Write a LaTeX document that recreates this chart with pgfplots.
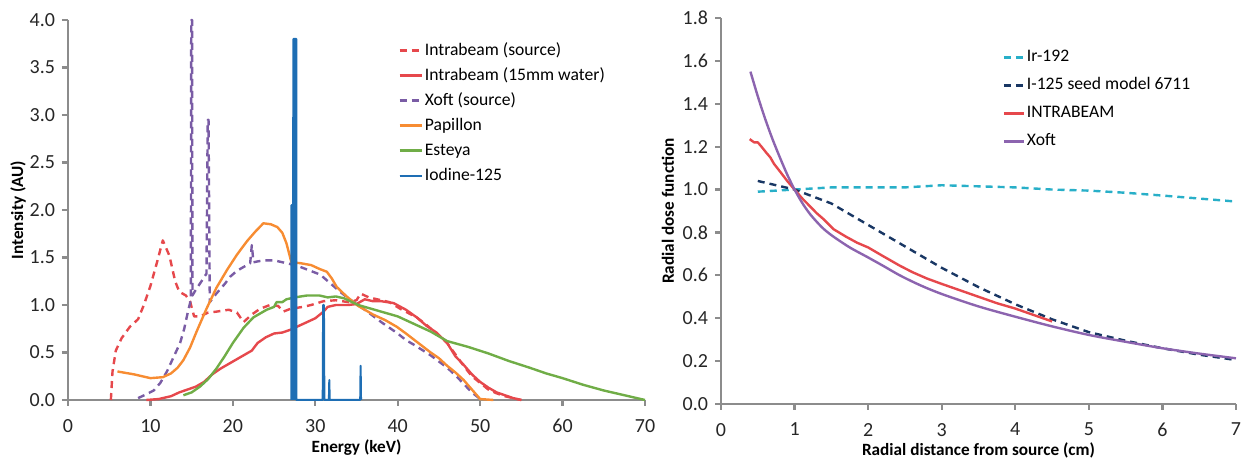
\documentclass[border=0pt]{standalone}
\usepackage{fontspec}
\setmainfont{Carlito}
\usepackage{pgfplots}
\pgfplotsset{compat=1.18}
\definecolor{axgray}{RGB}{140,140,140}
\definecolor{ibred}{RGB}{230,72,76}
\definecolor{xpurple}{RGB}{122,92,165}
\definecolor{xpurple2}{RGB}{140,100,175}
\definecolor{porange}{RGB}{247,140,50}
\definecolor{egreen}{RGB}{112,173,71}
\definecolor{iblue}{RGB}{30,110,180}
\definecolor{ircyan}{RGB}{40,175,200}
\definecolor{inavy}{RGB}{25,55,100}
\pgfplotsset{
  excel/.style={
    scale only axis,
    axis lines=left,
    axis line style={-, draw=axgray, line width=1.1pt},
    tick style={draw=axgray, line width=1.1pt},
    major tick length=3pt,
    tick align=outside,
    clip=false,
    /pgf/number format/assume math mode=true,
    ticklabel style={font=\fontsize{10}{11}\selectfont, text=black!85},
    xticklabel style={yshift=-3pt},
    every axis x label/.style={font=\bfseries\fontsize{8.6}{10}\selectfont, anchor=center},
    every axis y label/.style={font=\bfseries\fontsize{8.6}{10}\selectfont, rotate=90, anchor=center},
    legend cell align=left,
    legend style={draw=none, fill=none, inner sep=0pt, anchor=north west,
      font=\fontsize{8.8}{10}\selectfont,
      nodes={inner sep=1pt, text height=6.5pt, text depth=2pt}},
    legend image code/.code={\draw[#1] (0pt,0pt) -- (11pt,0pt);},
    every axis plot/.append style={line width=1.2pt, line join=round},
  },
  dsh/.style={dash pattern=on 3.5pt off 2.5pt},
}
\begin{document}
\begin{tikzpicture}
\useasboundingbox (0,0) rectangle (621pt,229pt);
\begin{axis}[excel,
  at={(34pt,29pt)}, anchor=south west, width=288.5pt, height=190pt,
  xmin=0, xmax=70, ymin=0, ymax=4,
  xtick={0,10,20,30,40,50,60,70},
  ytick={0,0.5,1,1.5,2,2.5,3,3.5,4},
  yticklabel style={/pgf/number format/fixed, /pgf/number format/precision=1, /pgf/number format/fixed zerofill},
  xlabel={Energy (keV)}, ylabel={Intensity (AU)},
  xlabel style={at={(axis description cs:0.5,-0.126)}},
  ylabel style={at={(axis description cs:-0.0867,0.5)}},
  legend style={at={(axis description cs:0.572,0.948)}, row sep=2pt},
]
\addplot[ibred, dsh] coordinates {(5.2,0)(5.4,0.3)(5.8,0.52)(6.5,0.65)(7.5,0.77)(8.5,0.85)(9.2,1.0)(10,1.2)(10.8,1.45)(11.5,1.68)(12.3,1.52)(13,1.25)(13.5,1.14)(14.3,1.1)(14.8,1.04)(15.3,0.88)(16,0.88)(17,0.92)(18,0.93)(19.5,0.95)(20.5,0.92)(21.3,0.82)(22.3,0.9)(23.3,0.96)(24.5,1.0)(25.5,0.99)(26.1,0.93)(27,0.96)(28.5,0.98)(29.5,1.0)(31,1.04)(32.5,1.05)(34,1.03)(35,1.05)(35.5,1.12)(36.5,1.08)(37.5,1.06)(39,1.03)(40.5,0.95)(42.3,0.87)(43.5,0.79)(44.7,0.7)(46,0.6)(47,0.48)(48,0.36)(49,0.25)(50,0.18)(51,0.11)(52,0.07)(53,0.04)(54,0.02)(55,0)};
\addlegendentry{Intrabeam (source)}
\addplot[ibred] coordinates {(9.5,0)(11,0.01)(12.5,0.04)(13.5,0.08)(14.5,0.11)(15.5,0.14)(16.5,0.19)(17.5,0.27)(18.5,0.33)(19.5,0.38)(20.3,0.42)(21.3,0.47)(22.3,0.52)(23,0.6)(24,0.66)(25,0.7)(26,0.71)(27,0.74)(28,0.78)(29,0.82)(30,0.86)(31,0.93)(31.5,0.98)(32.5,1.0)(34,1.0)(35,1.01)(36,1.06)(37,1.04)(38,1.04)(39.5,1.02)(41,0.95)(42.3,0.87)(43.5,0.78)(44.7,0.71)(46,0.6)(47,0.46)(48,0.37)(49,0.27)(50,0.19)(51,0.13)(52,0.08)(53,0.05)(54,0.02)(55,0)};
\addlegendentry{Intrabeam (15mm water)}
\addplot[xpurple, dsh] coordinates {(8.5,0.02)(9.5,0.06)(10.4,0.1)(11.2,0.18)(12,0.3)(12.8,0.45)(13.6,0.6)(14.1,0.75)(14.6,0.95)(14.9,1.05)(14.95,4.0)(15.05,4.0)(15.1,1.1)(15.5,1.16)(16.2,1.25)(16.8,1.33)(16.95,2.95)(17.05,2.95)(17.2,1.03)(18,1.12)(19,1.22)(19.7,1.3)(20.5,1.36)(21.3,1.4)(22.1,1.44)(22.3,1.63)(22.5,1.45)(23.7,1.47)(25,1.47)(26,1.45)(27,1.43)(28.2,1.4)(30.6,1.32)(33,1.14)(34,1.07)(35.2,1.0)(36,0.95)(38,0.82)(40,0.7)(41,0.63)(42,0.58)(44,0.47)(46,0.34)(47,0.26)(48,0.17)(49,0.08)(50,0.01)};
\addlegendentry{Xoft (source)}
\addplot[porange] coordinates {(6,0.3)(8,0.27)(10,0.23)(11.5,0.24)(12.5,0.28)(13.3,0.34)(14,0.42)(14.8,0.55)(15.6,0.72)(16.8,0.96)(18,1.18)(19.3,1.37)(20.5,1.53)(21.7,1.67)(22.7,1.77)(23.7,1.86)(24.6,1.85)(25.4,1.82)(26,1.76)(26.5,1.65)(27.1,1.45)(28.2,1.44)(29.5,1.42)(30.5,1.38)(31.4,1.35)(32,1.28)(32.6,1.19)(33.8,1.09)(35.2,0.99)(37,0.9)(38.5,0.84)(39.9,0.77)(41,0.7)(42.5,0.6)(44,0.5)(45,0.44)(46,0.36)(47,0.29)(48,0.21)(49,0.11)(50,0.01)(51.6,0)};
\addlegendentry{Papillon}
\addplot[egreen] coordinates {(14,0.05)(15,0.08)(16,0.14)(17,0.22)(18,0.33)(19,0.46)(20,0.6)(21.3,0.76)(22.5,0.87)(23.5,0.92)(24.1,0.95)(25,0.98)(25.3,1.03)(26,1.03)(26.5,1.06)(27.5,1.08)(29,1.1)(30.5,1.1)(31.5,1.08)(32.5,1.09)(33.5,1.07)(35.2,1.0)(36,0.98)(38,0.93)(40,0.88)(42,0.8)(44,0.72)(46,0.62)(48.5,0.56)(51,0.49)(53.5,0.41)(56,0.34)(58,0.28)(60,0.23)(62.5,0.16)(65,0.1)(67.5,0.05)(70,0)};
\addlegendentry{Esteya}
\addplot[iblue, fill=iblue, line width=1pt] coordinates {(27.1,0)(27.1,2.05)(27.3,2.05)(27.35,3.8)(27.7,3.8)(27.7,0)(30.9,0)(30.95,1.0)(31.05,1.0)(31.1,0)(31.65,0)(31.7,0.21)(31.75,0)(35.45,0)(35.5,0.36)(35.55,0)};
\addlegendentry{Iodine-125}
\end{axis}

\begin{axis}[excel,
  at={(360.5pt,27pt)}, anchor=south west, width=257.5pt, height=193pt,
  xmin=0, xmax=7, ymin=0, ymax=1.8,
  xtick={0,1,2,3,4,5,6,7},
  ytick={0,0.2,0.4,0.6,0.8,1.0,1.2,1.4,1.6,1.8},
  yticklabel style={/pgf/number format/fixed, /pgf/number format/precision=1, /pgf/number format/fixed zerofill},
  xlabel={Radial distance from source (cm)}, ylabel={Radial dose function},
  xlabel style={at={(axis description cs:0.5,-0.119)}},
  ylabel style={at={(axis description cs:-0.103,0.5)}},
  legend style={at={(axis description cs:0.546,0.926)}, row sep=3.5pt},
  legend image code/.code={\draw[#1] (0pt,0pt) -- (10pt,0pt);},
]
\addplot[ircyan, dsh] coordinates {(0.5,0.99)(1,1.0)(1.5,1.01)(2,1.01)(2.5,1.01)(3,1.02)(3.5,1.015)(4,1.01)(4.5,1.0)(5,0.995)(5.5,0.985)(6,0.972)(6.5,0.958)(7,0.944)};
\addlegendentry{Ir-192}
\addplot[inavy, dsh] coordinates {(0.5,1.04)(0.75,1.02)(1,1.0)(1.5,0.935)(2,0.835)(2.5,0.735)(3,0.635)(3.5,0.545)(4,0.465)(4.5,0.395)(5,0.335)(5.5,0.295)(6,0.26)(6.5,0.23)(7,0.205)};
\addlegendentry{I-125 seed model 6711}
\addplot[ibred] coordinates {(0.39,1.235)(0.45,1.22)(0.5,1.22)(0.55,1.2)(0.62,1.17)(0.67,1.15)(0.72,1.12)(0.8,1.085)(0.9,1.04)(1,1.0)(1.1,0.96)(1.2,0.925)(1.3,0.89)(1.4,0.86)(1.53,0.815)(1.7,0.78)(1.85,0.752)(2,0.73)(2.2,0.69)(2.43,0.645)(2.6,0.615)(2.8,0.585)(3,0.56)(3.25,0.53)(3.5,0.5)(3.75,0.47)(4,0.445)(4.25,0.415)(4.5,0.385)};
\addlegendentry{INTRABEAM}
\addplot[xpurple2, smooth] coordinates {(0.4,1.55)(0.5,1.435)(0.6,1.33)(0.7,1.235)(0.8,1.15)(0.9,1.07)(1,1.0)(1.1,0.94)(1.2,0.89)(1.3,0.85)(1.4,0.815)(1.53,0.78)(1.75,0.73)(1.98,0.687)(2.2,0.645)(2.43,0.6)(2.7,0.555)(3,0.513)(3.5,0.455)(4,0.407)(4.5,0.362)(5,0.322)(5.5,0.29)(6,0.26)(6.5,0.235)(7,0.213)};
\addlegendentry{Xoft}
\end{axis}
\end{tikzpicture}
\end{document}
